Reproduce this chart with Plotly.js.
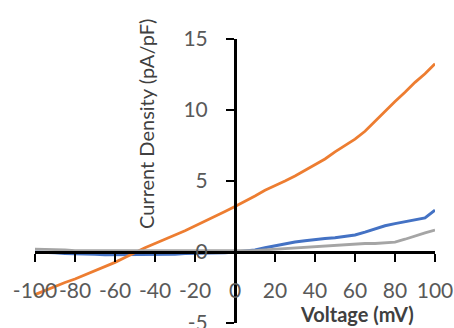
<!DOCTYPE html>
<html>
<head>
<meta charset="utf-8">
<script src="https://cdn.plot.ly/plotly-3.0.1.min.js"></script>
<style>html,body{margin:0;padding:0;background:#fff;}#chart{width:454px;height:328px;}</style>
</head>
<body>
<div id="chart"></div>
<script>
const voltage = [-100,-95,-90,-85,-80,-75,-70,-65,-60,-55,-50,-45,-40,-35,-30,-25,-20,-15,-10,-5,0,5,10,15,20,25,30,35,40,45,50,55,60,65,70,75,80,85,90,95,100];
const seriesBlue = [0.0,0.0,-0.05,-0.1,-0.1,-0.15,-0.15,-0.2,-0.2,-0.2,-0.15,-0.2,-0.2,-0.15,-0.15,-0.1,-0.1,-0.1,-0.05,-0.05,0.0,0.05,0.15,0.3,0.45,0.55,0.7,0.8,0.9,0.95,1.0,1.1,1.2,1.4,1.65,1.85,2.0,2.15,2.25,2.4,2.95];
const seriesOrange = [-3.0,-2.7,-2.45,-2.15,-1.9,-1.6,-1.35,-1.05,-0.73,-0.38,-0.03,0.3,0.6,0.92,1.2,1.5,1.83,2.15,2.5,2.85,3.2,3.55,3.95,4.35,4.65,5.0,5.35,5.75,6.15,6.55,7.05,7.5,7.95,8.5,9.2,9.95,10.6,11.25,11.95,12.55,13.25];
const seriesGray = [0.2,0.2,0.15,0.15,0.1,0.1,0.1,0.05,0.05,0.05,0.05,0.05,0.05,0.05,0.05,0.05,0.05,0.05,0.05,0.05,0.05,0.08,0.1,0.15,0.2,0.25,0.3,0.35,0.4,0.45,0.5,0.52,0.55,0.6,0.6,0.65,0.7,0.9,1.15,1.35,1.55];
const xTicks = [-100,-80,-60,-40,-20,0,20,40,60,80,100];
const yTicks = [-5,0,5,10,15];
const xTitle = "Voltage (mV)";
const yTitle = "Current Density (pA/pF)";

const traces = [
  {x: voltage, y: seriesBlue, mode: 'lines', line: {color: '#4472C4', width: 3}},
  {x: voltage, y: seriesOrange, mode: 'lines', line: {color: '#ED7D31', width: 2.8}},
  {x: voltage, y: seriesGray, mode: 'lines', line: {color: '#A5A5A5', width: 2.8}}
];

const layout = {
  width: 454, height: 328,
  margin: {l: 35, r: 19, t: 39, b: 5},
  paper_bgcolor: '#fff', plot_bgcolor: '#fff',
  showlegend: false,
  font: {family: 'Lato, "Open Sans", sans-serif', color: '#595959'},
  xaxis: {
    range: [-100, 100], anchor: 'free', position: 0.25,
    tickvals: xTicks, ticktext: xTicks.map(String),
    tickangle: 0, ticklabeloverflow: 'allow',
    showgrid: false, zeroline: false,
    showline: true, linecolor: '#000', linewidth: 2.5,
    ticks: 'outside', ticklen: 8, tickwidth: 2.5, tickcolor: '#000',
    ticklabelstandoff: 11,
    tickfont: {size: 21, color: '#595959'}
  },
  yaxis: {
    range: [-5, 15], anchor: 'free', position: 0.5,
    tickvals: yTicks, ticktext: yTicks.map(String),
    ticklabeloverflow: 'allow',
    showgrid: false, zeroline: false,
    showline: true, linecolor: '#000', linewidth: 2.5,
    ticks: 'outside', ticklen: 8, tickwidth: 2.5, tickcolor: '#000',
    ticklabelstandoff: 14,
    tickfont: {size: 21, color: '#595959'}
  },
  annotations: [
    {text: xTitle, xref: 'paper', yref: 'paper', x: (357-35)/400, y: (323-314)/284, xanchor: 'center', yanchor: 'middle', showarrow: false, font: {size: 20, color: '#404040', family: 'Lato, sans-serif', weight: 'bold'}},
    {text: yTitle, xref: 'paper', yref: 'paper', x: (146-35)/400, y: (323-124)/284, xanchor: 'center', yanchor: 'middle', textangle: -90, showarrow: false, font: {size: 20, color: '#404040', family: 'Lato, sans-serif'}}
  ]
};

Plotly.newPlot('chart', traces, layout, {displayModeBar: false, staticPlot: true});
</script>
</body>
</html>
